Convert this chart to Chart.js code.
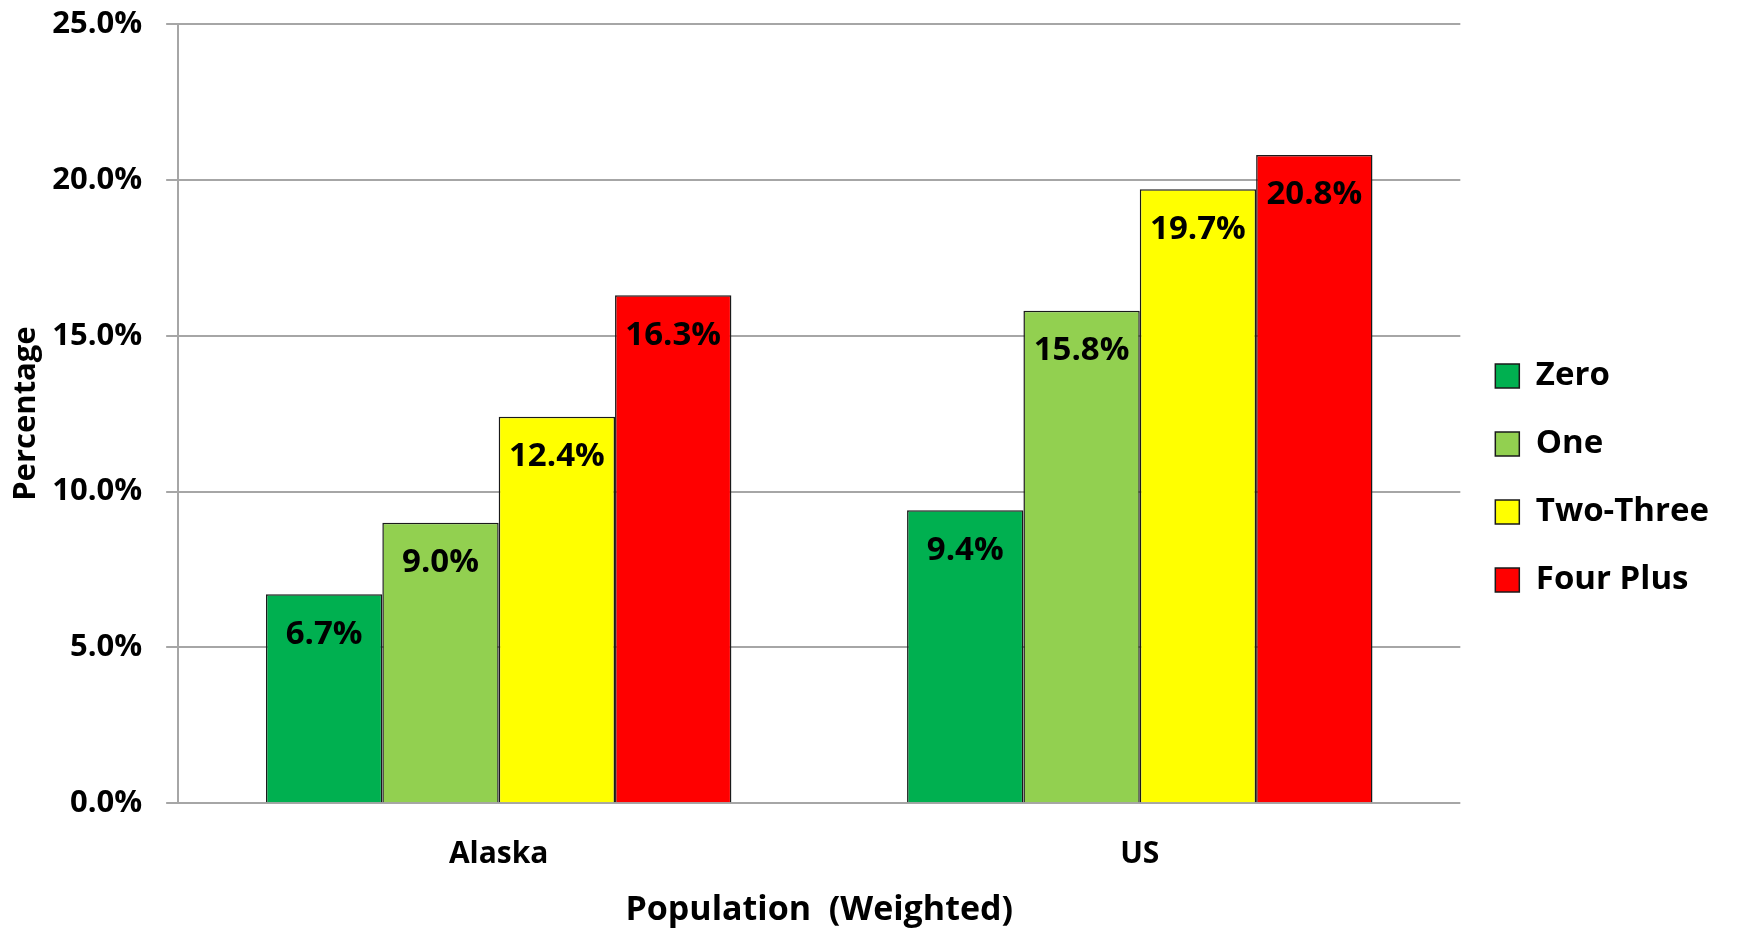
<!DOCTYPE html>
<html>
<head>
<meta charset="utf-8">
<title>Population (Weighted)</title>
<script src="https://cdn.jsdelivr.net/npm/chart.js@4"></script>
<style>
  html, body { margin: 0; padding: 0; background: #fff; }
  #wrap { width: 1740px; height: 929px; }
</style>
</head>
<body>
<div id="wrap"><canvas id="popChart" width="1740" height="929"></canvas></div>
<script>
// data
const categories = ['Alaska', 'US'];
const seriesNames = ['Zero', 'One', 'Two-Three', 'Four Plus'];
const zeroValues = [6.7, 9.4];
const oneValues = [9.0, 15.8];
const twoThreeValues = [12.4, 19.7];
const fourPlusValues = [16.3, 20.8];
const yTicks = [0, 5, 10, 15, 20, 25];

const seriesColors = ['#00B050', '#92D050', '#FFFF00', '#FF0000'];
const FONT = '"Open Sans", Lato, sans-serif';
const GRID = '#a6a6a6';

// labels inside bar tops (no datalabels plugin offline)
const barValueLabels = {
    id: 'barValueLabels',
    afterDatasetsDraw(chart) {
        const ctx = chart.ctx;
        ctx.save();
        ctx.font = 'bold 33px ' + FONT;
        ctx.fillStyle = '#000';
        ctx.textAlign = 'center';
        ctx.textBaseline = 'middle';
        chart.data.datasets.forEach(function(ds, i) {
            const meta = chart.getDatasetMeta(i);
            meta.data.forEach(function(bar, j) {
                ctx.fillText(ds.data[j].toFixed(1) + '%', bar.x, bar.y + 40);
            });
        });
        ctx.restore();
    }
};

const seriesValues = [zeroValues, oneValues, twoThreeValues, fourPlusValues];

new Chart(document.getElementById('popChart'), {
    type: 'bar',
    data: {
        labels: categories,
        datasets: seriesNames.map(function(name, i) {
            return {
                label: name,
                data: seriesValues[i],
                backgroundColor: seriesColors[i],
                borderColor: '#1a1a1a',
                borderWidth: 1.5,
                borderSkipped: 'bottom',
                categoryPercentage: 0.726,
                barPercentage: 1.0
            };
        })
    },
    options: {
        responsive: false,
        animation: false,
        layout: { padding: { top: 24, bottom: -3, left: 0, right: 21 } },
        plugins: {
            tooltip: { enabled: false },
            legend: {
                position: 'right',
                align: 'center',
                labels: {
                    boxWidth: 24,
                    boxHeight: 24,
                    padding: 35,
                    color: '#000',
                    font: { family: FONT, size: 33, weight: 'bold' }
                }
            }
        },
        scales: {
            x: {
                grid: { display: false, drawTicks: false },
                border: { display: false },
                ticks: {
                    padding: 33,
                    color: '#000',
                    font: { family: FONT, size: 30, weight: 'bold' }
                },
                title: {
                    display: true,
                    text: 'Population  (Weighted)',
                    color: '#000',
                    padding: { top: -15, bottom: 1 },
                    font: { family: FONT, size: 34, weight: 'bold' }
                }
            },
            y: {
                min: 0,
                max: 25,
                afterBuildTicks: function(scale) {
                    scale.ticks = yTicks.map(function(v) { return { value: v }; });
                },
                // the label padding should not push the plot top down
                afterFit: function(scale) {
                    scale.paddingTop = 0;
                    scale.paddingBottom = 0;
                },
                grid: { color: GRID, lineWidth: 2, tickLength: 12 },
                border: { color: GRID, width: 2 },
                ticks: {
                    padding: 24,
                    color: '#000',
                    font: { family: FONT, size: 31, weight: 'bold' },
                    callback: function(v) { return Number(v).toFixed(1) + '%'; }
                },
                title: {
                    display: true,
                    text: 'Percentage',
                    color: '#000',
                    padding: { top: 8, bottom: -17 },
                    font: { family: FONT, size: 31, weight: 'bold' }
                }
            }
        }
    },
    plugins: [barValueLabels]
});
</script>
</body>
</html>
